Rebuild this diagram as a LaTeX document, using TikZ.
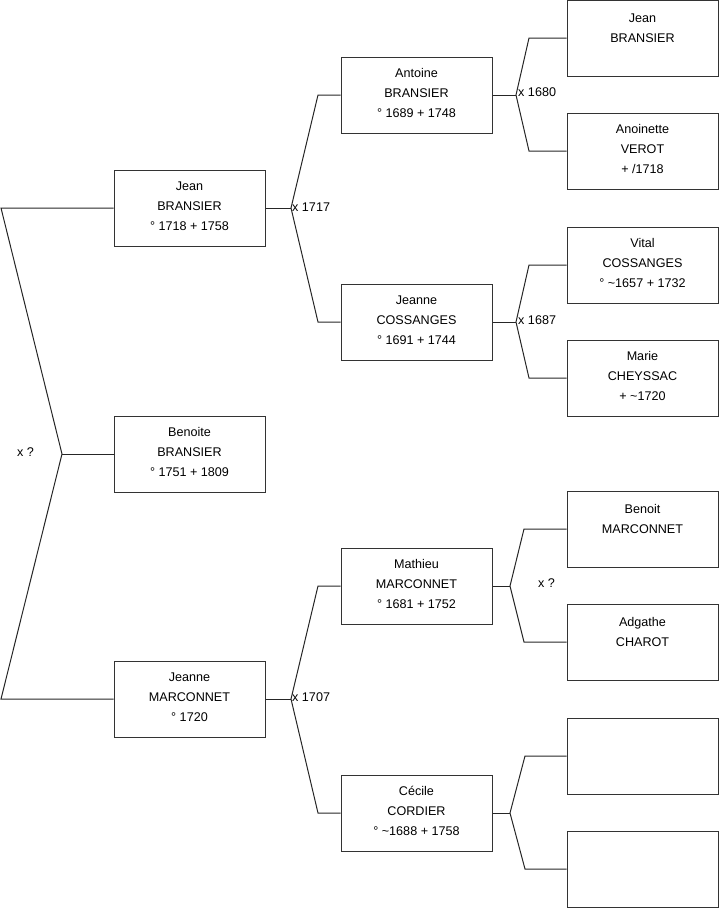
\documentclass[tikz,border=0pt]{standalone}
\usepackage{fontspec}
\setmainfont{Liberation Sans}
\newcommand\mydp[1]{\rule[-#1]{0pt}{#1}}
\begin{document}
\begin{tikzpicture}[x=1pt,y=-1pt,
  box/.style={draw=black!80, line width=1pt, fill=white, minimum width=151pt, minimum height=76pt,
    inner sep=0pt, align=center, font=\fontsize{12.6}{20}\selectfont},
  conn/.style={draw=black!85, line width=1pt},
  lbl/.style={anchor=west, inner sep=1pt, font=\fontsize{12.6}{15}\selectfont}]
\useasboundingbox (0,0) rectangle (719,908);
% generation 1
\node[box] (p1) at (189.5,208) {Jean\\BRANSIER\\° 1718 + 1758\mydp{4pt}};
\node[box] (p2) at (189.5,454) {Benoite\\BRANSIER\\° 1751 + 1809\mydp{4pt}};
\node[box] (p3) at (189.5,699) {Jeanne\\MARCONNET\\° 1720\mydp{4pt}};
% generation 2
\node[box] (q1) at (416.5,95) {Antoine\\BRANSIER\\° 1689 + 1748\mydp{4pt}};
\node[box] (q2) at (416.5,322) {Jeanne\\COSSANGES\\° 1691 + 1744\mydp{4pt}};
\node[box] (q3) at (416.5,586) {Mathieu\\MARCONNET\\° 1681 + 1752\mydp{4pt}};
\node[box] (q4) at (416.5,813) {Cécile\\CORDIER\\° \textasciitilde1688 + 1758\mydp{4pt}};
% generation 3
\node[box] (r1) at (642.5,38) {Jean\\BRANSIER\mydp{20pt}};
\node[box] (r2) at (642.5,151) {Anoinette\\VEROT\\+ /1718\mydp{4pt}};
\node[box] (r3) at (642.5,265) {Vital\\COSSANGES\\° \textasciitilde1657 + 1732\mydp{4pt}};
\node[box] (r4) at (642.5,378) {Marie\\CHEYSSAC\\+ \textasciitilde1720\mydp{4pt}};
\node[box] (r5) at (642.5,529) {Benoit\\MARCONNET\mydp{20pt}};
\node[box] (r6) at (642.5,642) {Adgathe\\CHAROT\mydp{20pt}};
\node[box] (r7) at (642.5,756) {};
\node[box] (r8) at (642.5,869) {};
% fork points
\coordinate (f0) at (62,454); \coordinate (a0) at (1,208); \coordinate (b0) at (1,699);
\coordinate (f1) at (291,208); \coordinate (a1) at (318,95); \coordinate (b1) at (318,322);
\coordinate (f3) at (291,699); \coordinate (a3) at (318,586); \coordinate (b3) at (318,813);
\coordinate (g1) at (516,95); \coordinate (c1) at (529,38); \coordinate (d1) at (529,151);
\coordinate (g2) at (516,322); \coordinate (c2) at (529,265); \coordinate (d2) at (529,378);
\coordinate (g3) at (510,586); \coordinate (c3) at (524,529); \coordinate (d3) at (524,642);
\coordinate (g4) at (510,813); \coordinate (c4) at (525,756); \coordinate (d4) at (525,869);
% connectors
\draw[conn] (p1.west) -- (a0) -- (f0) -- (b0) -- (p3.west);
\draw[conn] (f0) -- (p2.west);
\draw[conn] (q1.west) -- (a1) -- (f1) -- (b1) -- (q2.west);
\draw[conn] (p1.east) -- (f1);
\draw[conn] (q3.west) -- (a3) -- (f3) -- (b3) -- (q4.west);
\draw[conn] (p3.east) -- (f3);
\draw[conn] (r1.west) -- (c1) -- (g1) -- (d1) -- (r2.west);
\draw[conn] (q1.east) -- (g1);
\draw[conn] (r3.west) -- (c2) -- (g2) -- (d2) -- (r4.west);
\draw[conn] (q2.east) -- (g2);
\draw[conn] (r5.west) -- (c3) -- (g3) -- (d3) -- (r6.west);
\draw[conn] (q3.east) -- (g3);
\draw[conn] (r7.west) -- (c4) -- (g4) -- (d4) -- (r8.west);
\draw[conn] (q4.east) -- (g4);
% labels
\node[lbl] (l0) at (16,452) {x ?};
\node[lbl] (l1) at (291,207) {x 1717};
\node[lbl] (l3) at (291,697) {x 1707};
\node[lbl] (l4) at (517,92) {x 1680};
\node[lbl] (l5) at (517,320) {x 1687};
\node[lbl] (l6) at (537,583) {x ?};
\end{tikzpicture}
\end{document}
